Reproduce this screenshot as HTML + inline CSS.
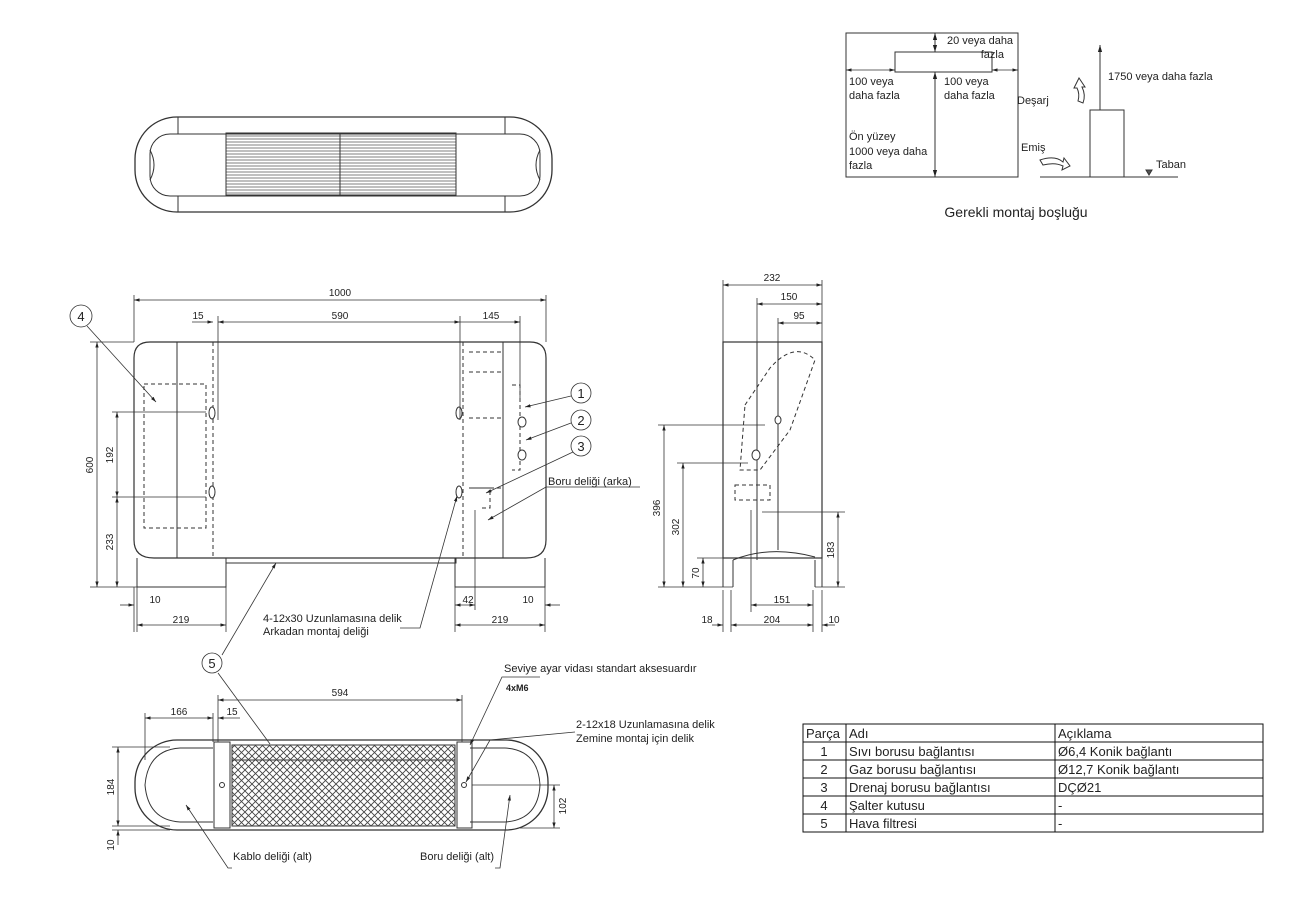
<!DOCTYPE html>
<html><head><meta charset="utf-8"><style>
html,body{margin:0;padding:0;background:#fff}
svg{display:block}
text{font-family:"Liberation Sans Narrow","Liberation Sans",sans-serif;fill:#222}
</style></head><body>
<svg width="1301" height="907" viewBox="0 0 1301 907" xmlns="http://www.w3.org/2000/svg">
<defs>
<marker id="a" viewBox="0 0 10 10" refX="10" refY="5" markerWidth="7" markerHeight="7" orient="auto-start-reverse"><path d="M0,2 L10,5 L0,8z" fill="#222"/></marker>
<pattern id="mesh" width="7" height="7" patternUnits="userSpaceOnUse"><path d="M0,0 L7,7 M7,0 L0,7" stroke="#444" stroke-width="0.9"/></pattern>
<pattern id="gr" width="4" height="6" patternUnits="userSpaceOnUse"><path d="M0,1 H4 M0,4 H4" stroke="#555" stroke-width="0.8"/></pattern>
</defs>
<g fill="none" stroke="#333" stroke-width="1">
<!-- TOP VIEW -->
<rect x="135" y="117" width="417" height="95" rx="42" stroke-width="1.3"/>
<rect x="150" y="134" width="390" height="62" rx="20"/>
<line x1="178" y1="117" x2="178" y2="134"/><line x1="178" y1="196" x2="178" y2="212"/>
<line x1="505" y1="117" x2="505" y2="134"/><line x1="505" y1="196" x2="505" y2="212"/>
<rect x="226" y="133" width="230" height="62" fill="url(#gr)" stroke="#333"/>
<line x1="340" y1="133" x2="340" y2="195"/>
<path d="M150,150 q8,15 0,30 M540,150 q-8,15 0,30"/>

<!-- FRONT VIEW -->
<path d="M150,342 H530 Q546,342 546,358 V540 Q546,558 526,558 H154 Q134,558 134,540 V358 Q134,342 150,342z" stroke-width="1.2"/>
<line x1="177" y1="342" x2="177" y2="558"/><line x1="503" y1="342" x2="503" y2="558"/>
<g stroke-dasharray="4,3">
<line x1="213" y1="342" x2="213" y2="558"/><line x1="463" y1="342" x2="463" y2="558"/>
<rect x="144" y="384" width="62" height="144"/>
<path d="M469,352 H503 M469,372 H503 M469,418 H503 M469,488 H503 M503,352 V488"/>
<path d="M512,385 H520 V470 H512"/>
<path d="M472,488 H490 V508 H480"/>
</g>
<g fill="#fff"><ellipse cx="212" cy="413" rx="3" ry="6"/><ellipse cx="212" cy="492" rx="3" ry="6"/><ellipse cx="459" cy="413" rx="3" ry="6"/><ellipse cx="459" cy="492" rx="3" ry="6"/>
<ellipse cx="522" cy="422" rx="4" ry="5"/><ellipse cx="522" cy="455" rx="4" ry="5"/></g>
<path d="M137,558 V587 H226 V558 M226,558 H456 V563 H226 M455,558 V587 H545 V558"/>
<!-- front dims -->
<g stroke-width="0.8">
<line x1="134" y1="295" x2="134" y2="342"/><line x1="546" y1="295" x2="546" y2="342"/>
<line x1="134" y1="300" x2="546" y2="300" marker-start="url(#a)" marker-end="url(#a)"/>
<line x1="218" y1="316" x2="218" y2="420"/><line x1="460" y1="316" x2="460" y2="420"/><line x1="520" y1="316" x2="520" y2="400"/>
<line x1="218" y1="322" x2="460" y2="322" marker-start="url(#a)" marker-end="url(#a)"/>
<line x1="460" y1="322" x2="520" y2="322" marker-end="url(#a)"/>
<line x1="192" y1="322" x2="213" y2="322" marker-end="url(#a)"/>
<line x1="90" y1="342" x2="134" y2="342"/><line x1="90" y1="587" x2="137" y2="587"/>
<line x1="97" y1="342" x2="97" y2="587" marker-start="url(#a)" marker-end="url(#a)"/>
<line x1="112" y1="412" x2="206" y2="412"/><line x1="112" y1="497" x2="206" y2="497"/>
<line x1="117" y1="412" x2="117" y2="497" marker-start="url(#a)" marker-end="url(#a)"/>
<line x1="117" y1="497" x2="117" y2="587" marker-start="url(#a)" marker-end="url(#a)"/>
<line x1="134" y1="587" x2="134" y2="632"/><line x1="137" y1="587" x2="137" y2="632"/><line x1="226" y1="587" x2="226" y2="632"/>
<line x1="455" y1="587" x2="455" y2="632"/><line x1="545" y1="587" x2="545" y2="632"/><line x1="475" y1="510" x2="475" y2="610"/>
<line x1="120" y1="605" x2="134" y2="605" marker-end="url(#a)"/>
<line x1="137" y1="625" x2="226" y2="625" marker-start="url(#a)" marker-end="url(#a)"/>
<line x1="455" y1="625" x2="545" y2="625" marker-start="url(#a)" marker-end="url(#a)"/>
<line x1="455" y1="605" x2="475" y2="605" marker-end="url(#a)" marker-start="url(#a)"/>
<line x1="560" y1="605" x2="545" y2="605" marker-end="url(#a)"/>
</g>
<!-- leaders -->
<g stroke-width="0.8">
<circle cx="81" cy="316" r="11"/><line x1="87" y1="326" x2="156" y2="402" marker-end="url(#a)"/>
<circle cx="581" cy="393" r="10"/><line x1="571" y1="396" x2="525" y2="407" marker-end="url(#a)"/>
<circle cx="581" cy="420" r="10"/><line x1="571" y1="423" x2="526" y2="440" marker-end="url(#a)"/>
<circle cx="581" cy="446" r="10"/><line x1="573" y1="452" x2="486" y2="493" marker-end="url(#a)"/>
<path d="M640,487 H546 L488,520" marker-end="url(#a)"/>
<path d="M400,628 H420 L457,496" marker-end="url(#a)"/>
<circle cx="212" cy="663" r="10"/>
<line x1="222" y1="655" x2="276" y2="563" marker-end="url(#a)"/>
<line x1="218" y1="673" x2="270" y2="744"/>
</g>

<!-- SIDE VIEW -->
<rect x="723" y="342" width="99" height="216" stroke-width="1.2"/>
<path d="M723,558 V587 M733,560 V587 M815,560 V587 M822,558 V587 M733,560 Q770,545 815,557"/>
<line x1="757" y1="342" x2="757" y2="560"/><line x1="778" y1="342" x2="778" y2="550"/>
<g stroke-dasharray="4,3"><path d="M745,405 L770,368 Q795,340 815,360 L790,430 L760,470 L740,470 Z"/><path d="M735,485 H770 V500 H735Z"/></g>
<g fill="#fff"><ellipse cx="756" cy="455" rx="4" ry="5"/><ellipse cx="778" cy="420" rx="3" ry="4"/></g>
<g stroke-width="0.8">
<line x1="723" y1="280" x2="723" y2="342"/><line x1="822" y1="280" x2="822" y2="342"/>
<line x1="723" y1="285" x2="822" y2="285" marker-start="url(#a)" marker-end="url(#a)"/>
<line x1="757" y1="298" x2="757" y2="342"/><line x1="757" y1="304" x2="822" y2="304" marker-start="url(#a)" marker-end="url(#a)"/>
<line x1="778" y1="318" x2="778" y2="342"/><line x1="778" y1="323" x2="822" y2="323" marker-start="url(#a)" marker-end="url(#a)"/>
<line x1="658" y1="425" x2="765" y2="425"/><line x1="677" y1="463" x2="748" y2="463"/>
<line x1="658" y1="587" x2="733" y2="587"/><line x1="697" y1="558" x2="723" y2="558"/>
<line x1="664" y1="425" x2="664" y2="587" marker-start="url(#a)" marker-end="url(#a)"/>
<line x1="683" y1="463" x2="683" y2="587" marker-start="url(#a)" marker-end="url(#a)"/>
<line x1="703" y1="558" x2="703" y2="587" marker-start="url(#a)" marker-end="url(#a)"/>
<line x1="762" y1="512" x2="845" y2="512"/><line x1="815" y1="587" x2="845" y2="587"/>
<line x1="838" y1="512" x2="838" y2="587" marker-start="url(#a)" marker-end="url(#a)"/>
<line x1="751" y1="510" x2="751" y2="612"/><line x1="731" y1="590" x2="731" y2="632"/><line x1="813" y1="590" x2="813" y2="632"/><line x1="723" y1="590" x2="723" y2="632"/><line x1="822" y1="590" x2="822" y2="632"/>
<line x1="751" y1="605" x2="813" y2="605" marker-start="url(#a)" marker-end="url(#a)"/>
<line x1="731" y1="625" x2="813" y2="625" marker-start="url(#a)" marker-end="url(#a)"/>
<line x1="712" y1="625" x2="723" y2="625" marker-end="url(#a)"/>
<line x1="835" y1="625" x2="822" y2="625" marker-end="url(#a)"/>
</g>

<!-- BOTTOM VIEW -->
<rect x="135" y="740" width="413" height="90" rx="42" stroke-width="1.3"/>
<path d="M180,748 H213 M180,822 H213 M470,748 H505 M470,822 H505"/>
<path d="M180,748 Q148,750 145,785 Q148,820 180,822 M505,748 Q538,750 540,785 Q538,820 505,822"/>
<rect x="232" y="745" width="223" height="81" fill="url(#mesh)"/>
<rect x="214" y="742" width="16" height="86"/><rect x="457" y="742" width="15" height="86"/>
<line x1="232" y1="760" x2="455" y2="760"/>
<circle cx="222" cy="785" r="2.5"/><circle cx="464" cy="785" r="2.5"/>
<g stroke-width="0.8">
<line x1="218" y1="695" x2="218" y2="742"/><line x1="462" y1="695" x2="462" y2="742"/>
<line x1="218" y1="700" x2="462" y2="700" marker-start="url(#a)" marker-end="url(#a)"/>
<line x1="145" y1="713" x2="145" y2="760"/><line x1="213" y1="713" x2="213" y2="742"/>
<line x1="145" y1="718" x2="213" y2="718" marker-start="url(#a)" marker-end="url(#a)"/>
<line x1="240" y1="718" x2="218" y2="718" marker-end="url(#a)"/>
<line x1="112" y1="747" x2="170" y2="747"/><line x1="112" y1="826" x2="170" y2="826"/><line x1="112" y1="830" x2="170" y2="830"/>
<line x1="118" y1="747" x2="118" y2="826" marker-start="url(#a)" marker-end="url(#a)"/>
<line x1="118" y1="845" x2="118" y2="830" marker-end="url(#a)"/>
<line x1="472" y1="785" x2="560" y2="785"/><line x1="520" y1="828" x2="560" y2="828"/>
<line x1="554" y1="785" x2="554" y2="828" marker-start="url(#a)" marker-end="url(#a)"/>
<path d="M540,677 H502 L470,745" marker-end="url(#a)"/>
<path d="M575,732 L490,740 L466,782" marker-end="url(#a)"/>
<path d="M232,868 H228 L186,805" marker-end="url(#a)"/>
<path d="M495,868 H500 L510,795" marker-end="url(#a)"/>
</g>

<!-- CLEARANCE -->
<rect x="846" y="33" width="172" height="144"/>
<rect x="895" y="52" width="97" height="20"/>
<line x1="846" y1="70" x2="895" y2="70" marker-start="url(#a)" marker-end="url(#a)" stroke-width="0.8"/>
<line x1="992" y1="70" x2="1018" y2="70" marker-start="url(#a)" marker-end="url(#a)" stroke-width="0.8"/>
<line x1="935" y1="72" x2="935" y2="177" marker-start="url(#a)" marker-end="url(#a)"/>
<line x1="935" y1="33" x2="935" y2="52" marker-start="url(#a)" marker-end="url(#a)"/>
<rect x="1090" y="110" width="34" height="67"/>
<line x1="1040" y1="177" x2="1178" y2="177"/>
<line x1="1100" y1="45" x2="1100" y2="110" marker-start="url(#a)"/>
<path d="M1074,88 L1079,78 L1085,87 L1082,87 Q1086,95 1083,103 L1078,101 Q1080,94 1077,88Z"/>
<path d="M1040,160 Q1055,155 1063,162 L1064,158 L1070,166 L1062,170 L1063,166 Q1055,162 1043,165Z"/>
<path d="M1146,170 L1152,170 L1149,175z" fill="#555"/>

<!-- TABLE -->
<g stroke="#111" stroke-width="1">
<rect x="803" y="724" width="460" height="108"/>
<line x1="803" y1="742" x2="1263" y2="742"/><line x1="803" y1="760" x2="1263" y2="760"/><line x1="803" y1="778" x2="1263" y2="778"/><line x1="803" y1="796" x2="1263" y2="796"/><line x1="803" y1="814" x2="1263" y2="814"/>
<line x1="846" y1="724" x2="846" y2="832"/><line x1="1055" y1="724" x2="1055" y2="832"/>
</g>
</g>

<g font-size="11">
<text x="340" y="296" text-anchor="middle" font-size="10">1000</text>
<text x="340" y="319" text-anchor="middle" font-size="10">590</text>
<text x="198" y="319" text-anchor="middle" font-size="10">15</text>
<text x="491" y="319" text-anchor="middle" font-size="10">145</text>
<text transform="translate(93,465) rotate(-90)" text-anchor="middle" font-size="10">600</text>
<text transform="translate(113,455) rotate(-90)" text-anchor="middle" font-size="10">192</text>
<text transform="translate(113,542) rotate(-90)" text-anchor="middle" font-size="10">233</text>
<text x="155" y="603" text-anchor="middle" font-size="10">10</text>
<text x="181" y="623" text-anchor="middle" font-size="10">219</text>
<text x="468" y="603" text-anchor="middle" font-size="10">42</text>
<text x="528" y="603" text-anchor="middle" font-size="10">10</text>
<text x="500" y="623" text-anchor="middle" font-size="10">219</text>
<text x="81" y="321" text-anchor="middle" font-size="13">4</text>
<text x="581" y="398" text-anchor="middle" font-size="13">1</text>
<text x="581" y="425" text-anchor="middle" font-size="13">2</text>
<text x="581" y="451" text-anchor="middle" font-size="13">3</text>
<text x="212" y="668" text-anchor="middle" font-size="13">5</text>
<text x="548" y="485">Boru deliği (arka)</text>
<text x="263" y="622">4-12x30 Uzunlamasına delik</text>
<text x="263" y="635">Arkadan montaj deliği</text>

<text x="772" y="281" text-anchor="middle" font-size="10">232</text>
<text x="789" y="300" text-anchor="middle" font-size="10">150</text>
<text x="799" y="319" text-anchor="middle" font-size="10">95</text>
<text transform="translate(660,508) rotate(-90)" text-anchor="middle" font-size="10">396</text>
<text transform="translate(679,527) rotate(-90)" text-anchor="middle" font-size="10">302</text>
<text transform="translate(699,573) rotate(-90)" text-anchor="middle" font-size="10">70</text>
<text transform="translate(834,550) rotate(-90)" text-anchor="middle" font-size="10">183</text>
<text x="782" y="603" text-anchor="middle" font-size="10">151</text>
<text x="772" y="623" text-anchor="middle" font-size="10">204</text>
<text x="707" y="623" text-anchor="middle" font-size="10">18</text>
<text x="834" y="623" text-anchor="middle" font-size="10">10</text>

<text x="340" y="696" text-anchor="middle" font-size="10">594</text>
<text x="179" y="715" text-anchor="middle" font-size="10">166</text>
<text x="232" y="715" text-anchor="middle" font-size="10">15</text>
<text transform="translate(114,787) rotate(-90)" text-anchor="middle" font-size="10">184</text>
<text transform="translate(114,845) rotate(-90)" text-anchor="middle" font-size="10">10</text>
<text transform="translate(566,806) rotate(-90)" text-anchor="middle" font-size="10">102</text>
<text x="504" y="672">Seviye ayar vidası standart aksesuardır</text>
<text x="506" y="691" font-size="9" font-weight="bold">4xM6</text>
<text x="576" y="728">2-12x18 Uzunlamasına delik</text>
<text x="576" y="742">Zemine montaj için delik</text>
<text x="233" y="860">Kablo deliği (alt)</text>
<text x="420" y="860">Boru deliği (alt)</text>

<text x="947" y="44">20 veya daha</text>
<text x="1004" y="58" text-anchor="end">fazla</text>
<text x="849" y="85">100 veya</text><text x="849" y="99">daha fazla</text>
<text x="944" y="85">100 veya</text><text x="944" y="99">daha fazla</text>
<text x="849" y="140">Ön yüzey</text><text x="849" y="155">1000 veya daha</text><text x="849" y="169">fazla</text>
<text x="1017" y="104">Deşarj</text>
<text x="1021" y="151">Emiş</text>
<text x="1108" y="80">1750 veya daha fazla</text>
<text x="1156" y="168">Taban</text>
<text x="1016" y="217" text-anchor="middle" font-size="14" style="font-family:'Liberation Sans',sans-serif">Gerekli montaj boşluğu</text>
</g>
<g font-size="13" style="font-family:'Liberation Sans',sans-serif">
<text x="806" y="738">Parça</text><text x="849" y="738">Adı</text><text x="1058" y="738">Açıklama</text>
<text x="824" y="756" text-anchor="middle">1</text><text x="849" y="756">Sıvı borusu bağlantısı</text><text x="1058" y="756">Ø6,4 Konik bağlantı</text>
<text x="824" y="774" text-anchor="middle">2</text><text x="849" y="774">Gaz borusu bağlantısı</text><text x="1058" y="774">Ø12,7 Konik bağlantı</text>
<text x="824" y="792" text-anchor="middle">3</text><text x="849" y="792">Drenaj borusu bağlantısı</text><text x="1058" y="792">DÇØ21</text>
<text x="824" y="810" text-anchor="middle">4</text><text x="849" y="810">Şalter kutusu</text><text x="1058" y="810">-</text>
<text x="824" y="828" text-anchor="middle">5</text><text x="849" y="828">Hava filtresi</text><text x="1058" y="828">-</text>
</g>
</svg>
</body></html>
